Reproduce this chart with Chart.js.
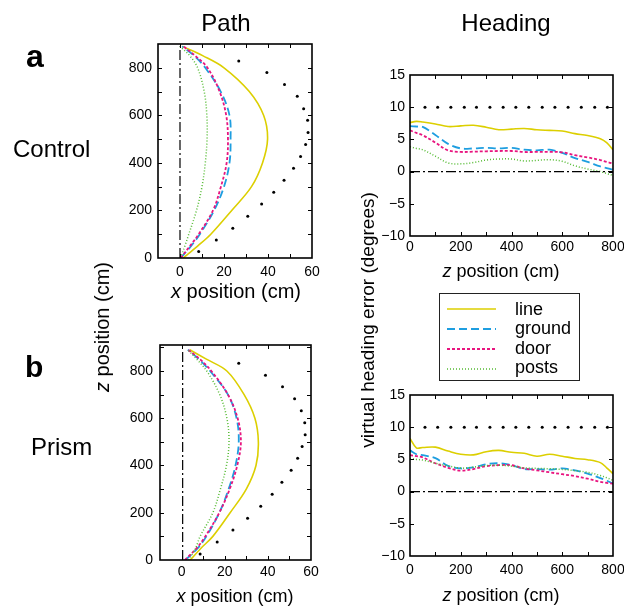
<!DOCTYPE html>
<html><head><meta charset="utf-8">
<script src="https://cdn.jsdelivr.net/npm/chart.js@4/dist/chart.umd.min.js"></script>
<style>
html,body{margin:0;padding:0;background:#fff;}
#wrap{position:relative;width:624px;height:606px;overflow:hidden;font-family:"Liberation Sans",Arial,sans-serif;color:#000;}
canvas{position:absolute;left:0;top:0;}
.t{position:absolute;white-space:nowrap;line-height:1;}
.hc{transform:translateX(-50%);}
.c{transform:translate(-50%,-50%);}
.r{transform:translate(-50%,-50%) rotate(-90deg);}
</style></head><body><div id="wrap">
<canvas id="pA" width="624" height="606"></canvas>
<canvas id="pB" width="624" height="606"></canvas>
<canvas id="hA" width="624" height="606"></canvas>
<canvas id="hB" width="624" height="606"></canvas>

<div class="t hc" style="left:226px;top:11px;font-size:24px">Path</div>
<div class="t hc" style="left:506px;top:11px;font-size:24px">Heading</div>
<div class="t" style="left:26px;top:40px;font-size:32px;font-weight:bold">a</div>
<div class="t" style="left:25px;top:352px;font-size:30px;font-weight:bold">b</div>
<div class="t" style="left:13px;top:137px;font-size:24px">Control</div>
<div class="t" style="left:31px;top:435px;font-size:24px">Prism</div>

<div class="t c" style="left:236px;top:291px;font-size:20px"><i>x</i> position (cm)</div>
<div class="t c" style="left:235px;top:596px;font-size:18px"><i>x</i> position (cm)</div>
<div class="t c" style="left:501px;top:271px;font-size:18px"><i>z</i> position (cm)</div>
<div class="t c" style="left:501px;top:595px;font-size:18px"><i>z</i> position (cm)</div>
<div class="t r" style="left:102px;top:327px;font-size:20px"><i>z</i> position (cm)</div>
<div class="t r" style="left:367px;top:320px;font-size:19px">virtual heading error (degrees)</div>

<div style="position:absolute;left:439px;top:293px;width:141px;height:88px;border:1px solid #222;box-sizing:border-box;"></div>
<svg id="leg" style="position:absolute;left:0;top:0" width="624" height="606"></svg>
<div id="legtext"></div>
</div>
<script>
// ---------- data ----------
const seriesNames = ['line', 'ground', 'door', 'posts'];

// Path panels: x position (cm) sampled at these z positions (cm)
const pathZ = [0, 50, 100, 200, 300, 400, 500, 600, 700, 800, 850, 890];
const ctrlLineX   = [1.5, 8, 14, 23.5, 32.5, 37.5, 39.8, 38, 31.5, 20, 10.5, 1];
const ctrlGroundX = [0.3, 5, 9, 15.5, 20, 22.5, 23, 22.5, 18.5, 11.5, 6.5, 1];
const ctrlDoorX   = [0.3, 4.5, 8.5, 15, 18.6, 21.2, 21.8, 21, 18, 12.5, 7, 1.5];
const ctrlPostsX  = [0.3, 2.2, 4, 7.5, 10, 11.5, 12.3, 12.2, 11, 8, 4.5, 0];

const prismLineX   = [4, 9, 14.5, 22.5, 30, 34.5, 35.6, 34, 29, 21, 11.5, 3.8];
const prismGroundX = [1.8, 7.5, 11.5, 17.5, 21.8, 25, 26.5, 25.5, 21.5, 13.2, 8, 2.9];
const prismDoorX   = [1.5, 7, 11, 17.5, 22.3, 25.8, 27.5, 26, 21.5, 13.8, 8.5, 3];
const prismPostsX  = [3.3, 6.5, 8.6, 14.5, 18, 20.8, 22, 21, 17.7, 11.7, 7, 2.9];

// target (black dots) in path panels
const ctrlTargetX  = [26.7, 39.5, 47.5, 53.3, 56.2, 58, 58.2, 57.1, 54.8, 51.6, 47.3, 42.6, 37.1, 30.8, 24, 16.5, 8.5];
const ctrlTargetZ  = [828, 780, 730, 680, 628, 579, 528, 477, 427, 377, 327, 277, 227, 176, 125, 76, 27];
const prismTargetX = [26.5, 38.9, 46.8, 52.4, 55.5, 57.1, 57.3, 55.9, 53.8, 50.8, 46.5, 42, 36.7, 30.6, 23.8, 16.5, 8.6];
const prismTargetZ = [833, 782, 733, 683, 632, 581, 530, 480, 431, 380, 329, 278, 227, 177, 127, 76, 25];

// straight-ahead reference (dash-dot)
const refPathZ = [0, 890];
const ctrlRefX = 0;
const prismRefX = 0.5;

// Heading panels: virtual heading error (deg) at these z positions (cm)
const headZ = [0, 25, 50, 100, 150, 200, 250, 300, 350, 400, 450, 500, 550, 600, 650, 700, 750, 775, 800];
const ctrlLineH   = [7.6, 7.8, 7.7, 7.4, 7.0, 7.1, 7.2, 6.9, 6.5, 6.6, 6.7, 6.5, 6.4, 6.3, 5.9, 5.6, 5.1, 4.5, 3.4];
const ctrlGroundH = [7.05, 7.0, 6.95, 5.7, 4.3, 3.6, 3.6, 3.7, 3.6, 3.7, 3.4, 3.3, 3.4, 2.9, 2.1, 1.5, 0.8, 0.55, 0.3];
const ctrlDoorH   = [6.4, 6.0, 5.65, 4.5, 3.3, 3.05, 3.1, 3.15, 3.2, 3.2, 3.05, 3.05, 3.05, 3.0, 2.55, 2.2, 1.8, 1.5, 1.25];
const ctrlPostsH  = [3.85, 3.6, 3.4, 2.4, 1.35, 1.2, 1.4, 1.8, 1.95, 1.95, 1.65, 1.75, 1.85, 1.6, 0.9, 0.4, 0.0, -0.3, -0.6];

const prismLineH   = [8.25, 6.8, 6.85, 6.9, 6.3, 5.8, 5.7, 6.2, 6.4, 6.1, 5.95, 5.5, 5.8, 5.5, 5.15, 4.95, 4.5, 3.7, 2.8];
const prismGroundH = [6.4, 5.8, 5.65, 5.2, 4.0, 3.6, 3.75, 4.25, 4.4, 4.1, 3.5, 3.5, 3.4, 3.6, 3.3, 2.8, 2.1, 1.7, 1.25];
const prismDoorH   = [5.65, 5.5, 5.3, 4.4, 3.7, 3.25, 3.5, 3.95, 4.1, 4.1, 3.6, 3.3, 3.0, 2.7, 2.4, 2.0, 1.5, 1.35, 1.25];
const prismPostsH  = [5.15, 5.0, 4.9, 4.4, 4.0, 3.65, 3.8, 4.05, 4.1, 3.95, 3.7, 3.6, 3.55, 3.45, 3.25, 3.0, 2.5, 2.15, 1.75];

// 10-degree reference (black dots) and zero line
const refDotZ = [59, 109, 161, 214, 262, 315, 367, 417, 468, 521, 571, 623, 675, 728, 778];
const refDotH = 10;
const zeroLineZ = [0, 800];
const zeroLineH = 0;

// tick values (marks) and labelled ticks
const pathXTicks = [-10, 0, 10, 20, 30, 40, 50, 60];
const pathXLabels = [0, 20, 40, 60];
const pathZTicks = [0, 100, 200, 300, 400, 500, 600, 700, 800, 900];
const pathZLabels = [0, 200, 400, 600, 800];
const headZTicks = [0, 100, 200, 300, 400, 500, 600, 700, 800];
const headZLabels = [0, 200, 400, 600, 800];
const headHTicks = [-10, -5, 0, 5, 10, 15];

// ---------- styles ----------
const STYLES = [
  {borderColor: '#DCCF00', borderWidth: 1.6, borderDash: []},
  {borderColor: '#1E9EE0', borderWidth: 1.8, borderDash: [8, 4]},
  {borderColor: '#E8157F', borderWidth: 1.8, borderDash: [3, 2]},
  {borderColor: '#55BB33', borderWidth: 1.5, borderDash: [1, 2]}
];
const FONT = {family: '"Liberation Sans", Arial, sans-serif', size: 14};

// legend (html)
(function () {
  const svg = document.getElementById('leg');
  const ys = [309, 329, 349, 369];
  const tops = [300, 319, 339, 358];
  let s = '';
  STYLES.forEach((st, i) => {
    s += `<line x1="447" y1="${ys[i]}" x2="496" y2="${ys[i]}" stroke="${st.borderColor}" stroke-width="${st.borderWidth}" stroke-dasharray="${st.borderDash.join(' ') || 'none'}"/>`;
  });
  svg.innerHTML = s;
  const lt = document.getElementById('legtext');
  seriesNames.forEach((n, i) => {
    const d = document.createElement('div');
    d.className = 't';
    d.style.cssText = `left:515px;top:${tops[i]}px;font-size:18px`;
    d.textContent = n;
    lt.appendChild(d);
  });
})();

// ---------- plugin: frame + inward ticks ----------
const frameTicks = {
  id: 'frameTicks',
  afterDatasetsDraw(chart) {
    const {ctx, chartArea: {left, right, top, bottom}, scales: {x, y}} = chart;
    const L = 4;
    ctx.save();
    ctx.strokeStyle = '#000';
    ctx.lineWidth = 1;
    ctx.beginPath();
    x.ticks.forEach(t => {
      if (t.value <= x.min + 1e-6 || t.value >= x.max - 1e-6) return;
      const p = Math.round(x.getPixelForValue(t.value)) + 0.5;
      ctx.moveTo(p, bottom); ctx.lineTo(p, bottom - L);
      ctx.moveTo(p, top); ctx.lineTo(p, top + L);
    });
    y.ticks.forEach(t => {
      if (t.value <= y.min + 1e-6 || t.value >= y.max - 1e-6) return;
      const p = Math.round(y.getPixelForValue(t.value)) + 0.5;
      ctx.moveTo(left, p); ctx.lineTo(left + L, p);
      ctx.moveTo(right, p); ctx.lineTo(right - L, p);
    });
    ctx.stroke();
    ctx.lineWidth = 1.6;
    ctx.strokeRect(left, top, right - left, bottom - top);
    ctx.restore();
  }
};

const fmt = v => (v < 0 ? '\u2212' + Math.abs(v) : String(v));

function scales(o) {
  return {
    x: {
      type: 'linear', min: o.xmin, max: o.xmax,
      afterBuildTicks(s) { s.ticks = o.xticks.map(v => ({value: v})); },
      afterFit(s) { s.height = 30; s.paddingLeft = 0; s.paddingRight = 0; },
      grid: {display: false, drawTicks: false}, border: {display: false},
      ticks: {autoSkip: false, maxRotation: 0, minRotation: 0, padding: o.xpad,
              color: '#000', font: FONT, callback: v => (o.xlabels.includes(v) ? fmt(v) : '')}
    },
    y: {
      type: 'linear', min: o.ymin, max: o.ymax,
      afterBuildTicks(s) { s.ticks = o.yticks.map(v => ({value: v})); },
      afterFit(s) { s.width = 50; s.paddingTop = 0; s.paddingBottom = 0; },
      grid: {display: false, drawTicks: false}, border: {display: false},
      ticks: {autoSkip: false, padding: o.ypad, color: '#000', font: FONT,
              callback: v => (o.ylabels.includes(v) ? fmt(v) : '')}
    }
  };
}

function makeChart(id, area, datasets, sc) {
  new Chart(document.getElementById(id), {
    type: 'scatter',
    data: {datasets},
    options: {
      responsive: false, animation: false, devicePixelRatio: 1,
      events: [],
      layout: {padding: {left: area.l - 50, right: 624 - area.r, top: area.t, bottom: 606 - area.b - 30}},
      plugins: {legend: {display: false}, tooltip: {enabled: false}},
      scales: sc
    },
    plugins: [frameTicks]
  });
}

function lineSet(xs, ys, i) {
  return Object.assign({
    data: xs.map((v, k) => ({x: v, y: ys[k]})),
    showLine: true, pointRadius: 0, tension: 0.35, fill: false
  }, STYLES[i]);
}
function dashDot(xs, ys) {
  return {data: xs.map((v, k) => ({x: v, y: ys[k]})), showLine: true, pointRadius: 0,
          borderColor: '#000', borderWidth: 1.2, borderDash: [10, 3, 2, 3]};
}
function dots(xs, ys) {
  return {data: xs.map((v, k) => ({x: v, y: ys[k]})), showLine: false, pointRadius: 1.5,
          pointBackgroundColor: '#000', pointBorderWidth: 0, borderColor: '#000'};
}

const pathScaleOpts = (ymax, xpad, ypad) => ({
  xmin: -10, xmax: 60, xticks: pathXTicks, xlabels: pathXLabels, xpad,
  ymin: 0, ymax, yticks: pathZTicks.filter(v => v < ymax), ylabels: pathZLabels, ypad
});
const headScaleOpts = (xpad) => ({
  xmin: 0, xmax: 800, xticks: headZTicks, xlabels: headZLabels, xpad,
  ymin: -10, ymax: 15, yticks: headHTicks, ylabels: headHTicks, ypad: 5
});

// Control path
makeChart('pA', {l: 158, r: 312, t: 44, b: 258}, [
  dashDot(refPathZ.map(() => ctrlRefX), refPathZ),
  dots(ctrlTargetX, ctrlTargetZ),
  lineSet(ctrlPostsX, pathZ, 3),
  lineSet(ctrlDoorX, pathZ, 2),
  lineSet(ctrlGroundX, pathZ, 1),
  lineSet(ctrlLineX, pathZ, 0)
], scales(pathScaleOpts(900, 6, 6)));

// Prism path
makeChart('pB', {l: 160, r: 311, t: 345, b: 560}, [
  dashDot(refPathZ.map(() => prismRefX), refPathZ),
  dots(prismTargetX, prismTargetZ),
  lineSet(prismPostsX, pathZ, 3),
  lineSet(prismDoorX, pathZ, 2),
  lineSet(prismGroundX, pathZ, 1),
  lineSet(prismLineX, pathZ, 0)
], scales(pathScaleOpts(910, 4, 7)));

// Control heading
makeChart('hA', {l: 410, r: 613, t: 75, b: 236}, [
  dashDot(zeroLineZ, zeroLineZ.map(() => zeroLineH)),
  dots(refDotZ, refDotZ.map(() => refDotH)),
  lineSet(headZ, ctrlPostsH, 3),
  lineSet(headZ, ctrlDoorH, 2),
  lineSet(headZ, ctrlGroundH, 1),
  lineSet(headZ, ctrlLineH, 0)
], scales(headScaleOpts(3)));

// Prism heading
makeChart('hB', {l: 410, r: 613, t: 395, b: 556}, [
  dashDot(zeroLineZ, zeroLineZ.map(() => zeroLineH)),
  dots(refDotZ, refDotZ.map(() => refDotH)),
  lineSet(headZ, prismPostsH, 3),
  lineSet(headZ, prismDoorH, 2),
  lineSet(headZ, prismGroundH, 1),
  lineSet(headZ, prismLineH, 0)
], scales(headScaleOpts(6)));
</script>
</body></html>
